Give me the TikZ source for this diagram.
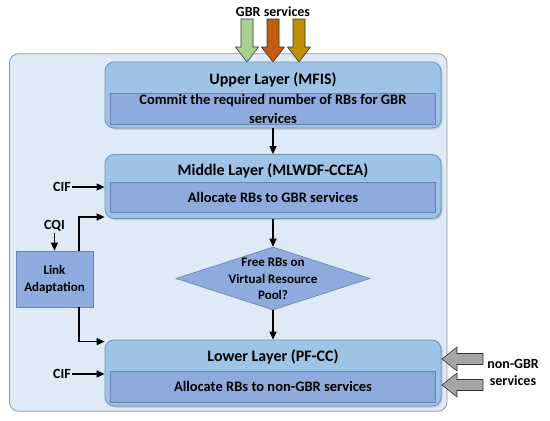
\documentclass[tikz,border=0pt]{standalone}
\usepackage{fontspec}
\setmainfont{Carlito}
\usetikzlibrary{shapes.geometric,arrows.meta,shadows}
\definecolor{bgfill}{HTML}{DEEAF6}
\definecolor{bgdraw}{HTML}{8E9BA8}
\definecolor{layerfill}{HTML}{9DC3E6}
\definecolor{layerdraw}{HTML}{6F93B8}
\definecolor{innerfill}{HTML}{8FAADC}
\definecolor{innerdraw}{HTML}{6A82B0}
\definecolor{gbrgreen}{HTML}{A9D18E}
\definecolor{gbrorange}{HTML}{C55A11}
\definecolor{gbrgold}{HTML}{BF9000}
\definecolor{nongray}{HTML}{A6A6A6}
\tikzset{
  container/.style={draw=bgdraw, fill=bgfill, line width=0.8pt, rounded corners=9pt, inner sep=0pt, minimum width=437.5pt, minimum height=357.5pt},
  layer/.style={draw=layerdraw, fill=layerfill, line width=0.8pt, rounded corners=9pt, inner sep=0pt, minimum width=336pt,
    drop shadow={shadow xshift=1.5pt, shadow yshift=-1.5pt, opacity=0.35, fill=gray}},
  innerbox/.style={draw=innerdraw, fill=innerfill, line width=0.6pt, inner sep=0pt, minimum width=325.5pt},
  title/.style={font=\bfseries\fontsize{16}{18}\selectfont, inner sep=0pt},
  body/.style={font=\bfseries\fontsize{14.5}{19}\selectfont, inner sep=0pt, align=center},
  lbl/.style={font=\bfseries\fontsize{14}{17}\selectfont, inner sep=1pt, align=center},
  arr/.style={draw=black, line width=1.2pt, -{Triangle[length=8pt,width=7pt]}},
  bigarrow/.style={draw=black!80, line width=0.6pt}
}
\begin{document}
\begin{tikzpicture}[x=1pt,y=-1pt]
\useasboundingbox (0,0) rectangle (550,421);
% container
\node[container] (cont) at (228.25,232.5) {};
% GBR arrows
\node[lbl] (gbr) at (273,12) {GBR services};
\foreach \cx/\col in {247/gbrgreen,273/gbrorange,299/gbrgold}{
  \filldraw[bigarrow, fill=\col] (\cx-6,19) -- (\cx+6,19) -- (\cx+6,47) -- (\cx+11.5,47) -- (\cx,62) -- (\cx-11.5,47) -- (\cx-6,47) -- cycle;
}
% layers
\node[layer, minimum height=66pt] (upper) at (273,95) {};
\node[innerbox, minimum height=31pt] (upperin) at (273,108.5) {};
\node[title] (uppert) at (273,80) {Upper Layer (MFIS)};
\node[body] (upperb) at (273,108.5) {Commit the required number of RBs for GBR\\services};

\node[layer, minimum height=64pt] (middle) at (273,186.5) {};
\node[innerbox, minimum height=30pt] (middlein) at (273,197) {};
\node[title] (middlet) at (273,171) {Middle Layer (MLWDF-CCEA)};
\node[body] (middleb) at (273,197) {Allocate RBs to GBR services};

\node[layer, minimum height=66pt] (lower) at (273,373) {};
\node[innerbox, minimum height=31pt] (lowerin) at (273,386.5) {};
\node[title] (lowert) at (273,357) {Lower Layer (PF-CC)};
\node[body] (lowerb) at (273,386.5) {Allocate RBs to non-GBR services};

% diamond
\node[diamond, draw=innerdraw, fill=innerfill, line width=0.6pt, inner sep=0pt, minimum width=194pt, minimum height=63pt] (dia) at (273,278.5) {};
\node[body, font=\bfseries\fontsize{13}{16.5}\selectfont] (diat) at (273,279) {Free RBs on\\Virtual Resource\\Pool?};

% link adaptation
\node[draw=innerdraw, fill=innerfill, line width=0.6pt, minimum width=77pt, minimum height=56pt, inner sep=0pt, lbl, font=\bfseries\fontsize{13}{17}\selectfont] (la) at (54.5,279) {Link\\Adaptation};

% labels
\node[lbl] (cif1) at (62,187) {CIF};
\node[lbl] (cif2) at (62,374) {CIF};
\node[lbl] (cqi) at (54.5,226) {CQI};
\node[lbl] (ngbr) at (513,372.5) {non-GBR\\services};

% connectors
\draw[arr] (upper.south) -- (middle.north);
\draw[arr] (middle.south) -- (dia.north);
\draw[arr] (dia.south) -- (lower.north);
\draw[arr] (cif1.east) -- (cif1 -| middle.west);
\draw[arr] (cif2.east) -- (cif2 -| lower.west);
\draw[arr] (cqi.south) -- (la.north);
\draw[arr] ([xshift=24.5pt]la.north) |- ([yshift=-30.5pt]middle.west);
\draw[arr] ([xshift=24.5pt]la.south) |- ([yshift=-2pt]lower.north west);

% non-GBR arrows
\foreach \cy in {359,385}{
  \filldraw[bigarrow, fill=nongray] (442,\cy) -- (457,\cy-12) -- (457,\cy-5.5) -- (483,\cy-5.5) -- (483,\cy+5.5) -- (457,\cy+5.5) -- (457,\cy+12) -- cycle;
}
\end{tikzpicture}
\end{document}
